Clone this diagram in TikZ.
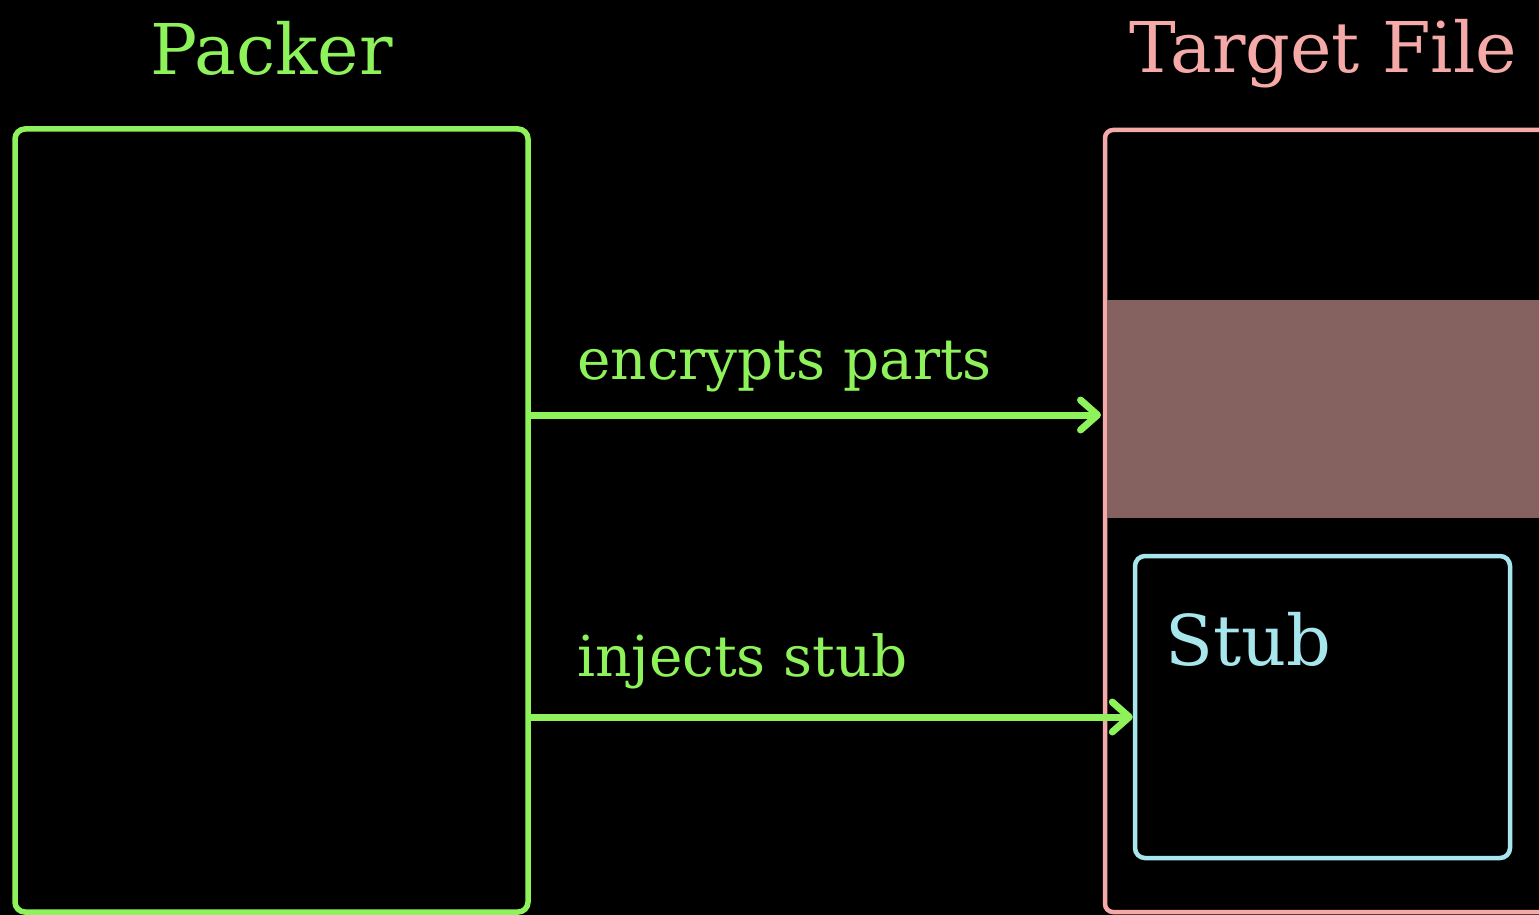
\documentclass[tikz,border=0pt]{standalone}
\usepackage{fontspec}
\setmainfont{DejaVu Serif}
\usetikzlibrary{arrows.meta}

\tikzset{
    box/.style={draw, rounded corners=10pt, inner sep=0pt, line width=5.5pt},
    title/.style={font=\fontsize{70}{80}\selectfont, anchor=base},
    label/.style={font=\fontsize{56.5}{60}\selectfont, anchor=base west, inner sep=0pt},
    flow/.style={draw=packerColour, line width=7pt,
        -{Straight Barb[length=17pt, width=30pt, round]}}
}

\begin{document}
\begin{tikzpicture}[x=1pt, y=-1pt]
    \definecolor{packerColour}{HTML}{8EF25A}
    \definecolor{targetColour}{HTML}{F6AAA8}
    \definecolor{bandColour}{HTML}{856260}
    \definecolor{stubColour}{HTML}{A6E6EC}

    % Background
    \fill[black] (0,0) rectangle (1539,915);
    \useasboundingbox (0,0) rectangle (1539,915);
    \clip (0,0) rectangle (1539,915);

    % Packer box
    \node[box, draw=packerColour, minimum width=513pt, minimum height=783pt] (packer) at (271.5,520.5) {};
    \node[title, text=packerColour] (packerTitle) at (271.5,75) {Packer};

    % Target file box
    \node[box, draw=targetColour, rounded corners=8pt, line width=4.5pt, minimum width=460pt, minimum height=782pt] (target) at (1335,521) {};
    \node[title, text=targetColour] (targetTitle) at (1323,73) {Target File};

    % Encrypted part
    \node[fill=bandColour, inner sep=0pt, minimum width=440pt, minimum height=218pt] (band) at (1327,409) {};

    % Stub
    \node[box, draw=stubColour, line width=4.5pt, minimum width=375pt, minimum height=302pt] (stub) at (1322.5,707) {};
    \node[title, anchor=base west, inner sep=0pt, text=stubColour] (stubText) at (1165,665) {Stub};

    % Arrows
    \coordinate (encIn) at (1101,415);
    \coordinate (stubIn) at (stub.west |- 0,717);

    \draw[flow] (packer.east |- encIn) -- (encIn);
    \draw[flow] (packer.east |- stubIn) -- (stubIn);

    \node[label, text=packerColour] (encLabel) at (577,379) {encrypts parts};
    \node[label, text=packerColour] (injLabel) at (577,676) {injects stub};

\end{tikzpicture}
\end{document}
